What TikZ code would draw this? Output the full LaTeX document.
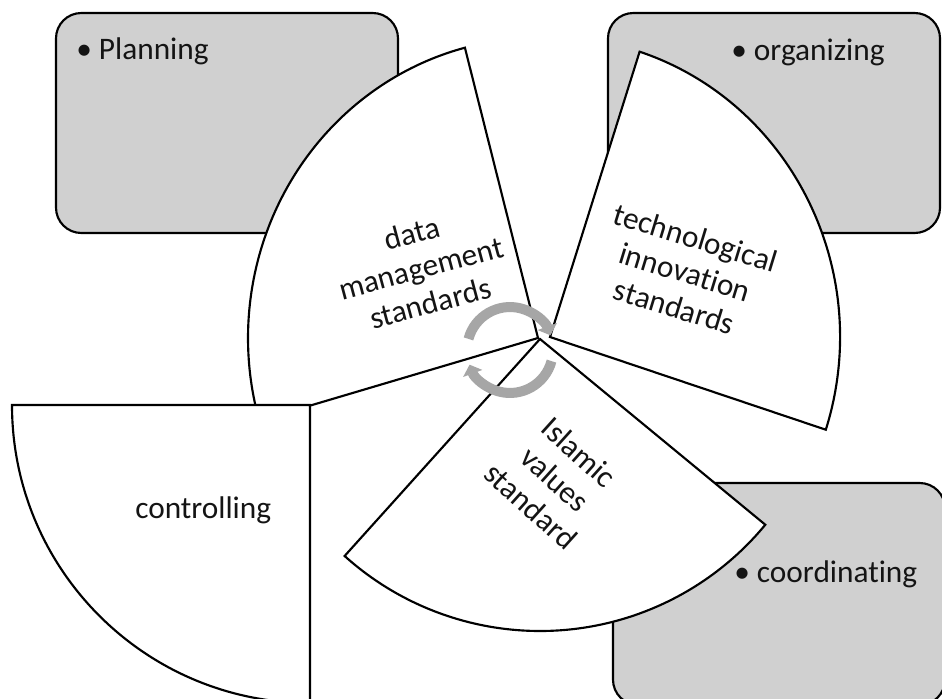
\documentclass[tikz,border=0pt]{standalone}
\usepackage{fontspec}
\setmainfont{Carlito}[Ligatures={NoCommon,NoContextual}]
\usetikzlibrary{arrows.meta}
\definecolor{boxgray}{RGB}{208,208,208}
\definecolor{arrgray}{RGB}{166,166,166}
\definecolor{txt}{RGB}{20,20,20}
\begin{document}
\begin{tikzpicture}[x=0.75pt,y=0.75pt,
  box/.style={draw=black, line width=1.6pt, fill=boxgray, rounded corners=19pt},
  sector/.style={draw=black, line width=1.6pt, fill=white, line join=miter},
  lbl/.style={font=\fontsize{23.5}{27}\selectfont, inner sep=0pt, text=txt, align=center},
  cyc/.style={draw=arrgray, line width=7.5pt, -{Triangle[length=7pt,width=15pt]}}]
\useasboundingbox (0,0) rectangle (942,-699);
% gray boxes
\draw[box] (56,-13) rectangle (398,-233);
\draw[box] (608,-13) rectangle (940,-233);
\draw[box] (613,-483) rectangle (945,-705);
% sectors
\coordinate (cd) at (538,-338);
\coordinate (ct) at (550,-337);
\coordinate (ci) at (540,-339);
\coordinate (cc) at (310,-405);
\draw[sector] (cd) -- ++(104.6:290 and 300) arc[start angle=104.6, end angle=196, x radius=290, y radius=300] -- cycle;
\draw[sector] (ct) -- ++(-18:290 and 300) arc[start angle=-18, end angle=72, x radius=290, y radius=300] -- cycle;
\draw[sector] (ci) -- ++(228:292) arc[start angle=228, end angle=320.5, radius=292] -- cycle;
\draw[sector] (cc) -- ++(180:298) arc[start angle=180, end angle=270, radius=298] -- cycle;
% cycle arrows
\draw[cyc] (468.5,-338.9) arc[start angle=165, end angle=20, radius=43];
\draw[cyc] (551.5,-361.1) arc[start angle=-15, end angle=-160, radius=43];
% texts
\node[lbl, anchor=base west] (planning) at (76,-60) {•\ Planning};
\node[lbl, anchor=base west] (organizing) at (731,-61) {•\ organizing};
\node[lbl, anchor=base west] (coordinating) at (734,-582) {•\ coordinating};
\node[lbl, anchor=base west] (controlling) at (135,-518) {controlling};
\node[lbl, rotate=15] (data) at (421,-268) {data\\management\\standards};
\node[lbl, rotate=-17] (tech) at (685,-272) {technological\\innovation\\standards};
\node[lbl, rotate=-42] (islamic) at (555,-479) {Islamic\\values\\standard};
\end{tikzpicture}
\end{document}
